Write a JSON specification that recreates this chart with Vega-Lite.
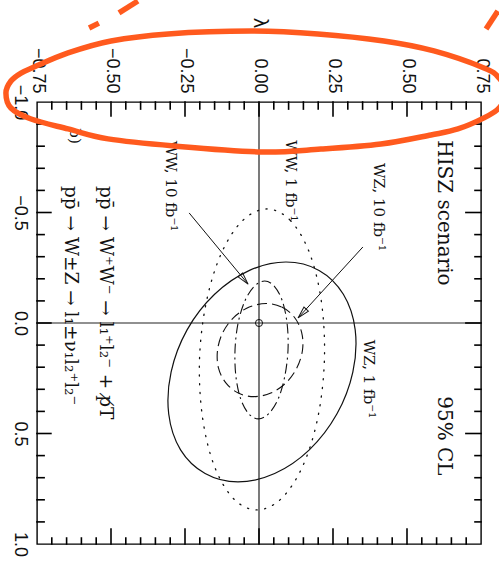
{
  "$schema": "https://vega.github.io/schema/vega-lite/v6.json",
  "width": 444,
  "height": 442,
  "autosize": {"type": "none"},
  "padding": {"left": 37, "top": 102, "right": 18, "bottom": 27},
  "background": "white",
  "config": {
    "view": {"stroke": "#000", "strokeWidth": 1.4},
    "axis": {"grid": false, "domain": false, "ticks": false, "labelColor": "#111"}
  },
  "datasets": {
    "tickmarks": [
      {"k": "t1", "x": -0.7, "y": -1}, {"k": "t1", "x": -0.7, "y": -0.968},
      {"k": "t2", "x": -0.65, "y": -1}, {"k": "t2", "x": -0.65, "y": -0.968},
      {"k": "t3", "x": -0.6, "y": -1}, {"k": "t3", "x": -0.6, "y": -0.968},
      {"k": "t4", "x": -0.55, "y": -1}, {"k": "t4", "x": -0.55, "y": -0.968},
      {"k": "t5", "x": -0.5, "y": -1}, {"k": "t5", "x": -0.5, "y": -0.937},
      {"k": "t6", "x": -0.45, "y": -1}, {"k": "t6", "x": -0.45, "y": -0.968},
      {"k": "t7", "x": -0.4, "y": -1}, {"k": "t7", "x": -0.4, "y": -0.968},
      {"k": "t8", "x": -0.35, "y": -1}, {"k": "t8", "x": -0.35, "y": -0.968},
      {"k": "t9", "x": -0.3, "y": -1}, {"k": "t9", "x": -0.3, "y": -0.968},
      {"k": "t10", "x": -0.25, "y": -1}, {"k": "t10", "x": -0.25, "y": -0.937},
      {"k": "t11", "x": -0.2, "y": -1}, {"k": "t11", "x": -0.2, "y": -0.968},
      {"k": "t12", "x": -0.15, "y": -1}, {"k": "t12", "x": -0.15, "y": -0.968},
      {"k": "t13", "x": -0.1, "y": -1}, {"k": "t13", "x": -0.1, "y": -0.968},
      {"k": "t14", "x": -0.05, "y": -1}, {"k": "t14", "x": -0.05, "y": -0.968},
      {"k": "t15", "x": 0, "y": -1}, {"k": "t15", "x": 0, "y": -0.937},
      {"k": "t16", "x": 0.05, "y": -1}, {"k": "t16", "x": 0.05, "y": -0.968},
      {"k": "t17", "x": 0.1, "y": -1}, {"k": "t17", "x": 0.1, "y": -0.968},
      {"k": "t18", "x": 0.15, "y": -1}, {"k": "t18", "x": 0.15, "y": -0.968},
      {"k": "t19", "x": 0.2, "y": -1}, {"k": "t19", "x": 0.2, "y": -0.968},
      {"k": "t20", "x": 0.25, "y": -1}, {"k": "t20", "x": 0.25, "y": -0.937},
      {"k": "t21", "x": 0.3, "y": -1}, {"k": "t21", "x": 0.3, "y": -0.968},
      {"k": "t22", "x": 0.35, "y": -1}, {"k": "t22", "x": 0.35, "y": -0.968},
      {"k": "t23", "x": 0.4, "y": -1}, {"k": "t23", "x": 0.4, "y": -0.968},
      {"k": "t24", "x": 0.45, "y": -1}, {"k": "t24", "x": 0.45, "y": -0.968},
      {"k": "t25", "x": 0.5, "y": -1}, {"k": "t25", "x": 0.5, "y": -0.937},
      {"k": "t26", "x": 0.55, "y": -1}, {"k": "t26", "x": 0.55, "y": -0.968},
      {"k": "t27", "x": 0.6, "y": -1}, {"k": "t27", "x": 0.6, "y": -0.968},
      {"k": "t28", "x": 0.65, "y": -1}, {"k": "t28", "x": 0.65, "y": -0.968},
      {"k": "t29", "x": 0.7, "y": -1}, {"k": "t29", "x": 0.7, "y": -0.968},
      {"k": "b1", "x": -0.7, "y": 1}, {"k": "b1", "x": -0.7, "y": 0.973},
      {"k": "b2", "x": -0.65, "y": 1}, {"k": "b2", "x": -0.65, "y": 0.973},
      {"k": "b3", "x": -0.6, "y": 1}, {"k": "b3", "x": -0.6, "y": 0.973},
      {"k": "b4", "x": -0.55, "y": 1}, {"k": "b4", "x": -0.55, "y": 0.973},
      {"k": "b5", "x": -0.5, "y": 1}, {"k": "b5", "x": -0.5, "y": 0.932},
      {"k": "b6", "x": -0.45, "y": 1}, {"k": "b6", "x": -0.45, "y": 0.973},
      {"k": "b7", "x": -0.4, "y": 1}, {"k": "b7", "x": -0.4, "y": 0.973},
      {"k": "b8", "x": -0.35, "y": 1}, {"k": "b8", "x": -0.35, "y": 0.973},
      {"k": "b9", "x": -0.3, "y": 1}, {"k": "b9", "x": -0.3, "y": 0.973},
      {"k": "b10", "x": -0.25, "y": 1}, {"k": "b10", "x": -0.25, "y": 0.932},
      {"k": "b11", "x": -0.2, "y": 1}, {"k": "b11", "x": -0.2, "y": 0.973},
      {"k": "b12", "x": -0.15, "y": 1}, {"k": "b12", "x": -0.15, "y": 0.973},
      {"k": "b13", "x": -0.1, "y": 1}, {"k": "b13", "x": -0.1, "y": 0.973},
      {"k": "b14", "x": -0.05, "y": 1}, {"k": "b14", "x": -0.05, "y": 0.973},
      {"k": "b15", "x": 0, "y": 1}, {"k": "b15", "x": 0, "y": 0.932},
      {"k": "b16", "x": 0.05, "y": 1}, {"k": "b16", "x": 0.05, "y": 0.973},
      {"k": "b17", "x": 0.1, "y": 1}, {"k": "b17", "x": 0.1, "y": 0.973},
      {"k": "b18", "x": 0.15, "y": 1}, {"k": "b18", "x": 0.15, "y": 0.973},
      {"k": "b19", "x": 0.2, "y": 1}, {"k": "b19", "x": 0.2, "y": 0.973},
      {"k": "b20", "x": 0.25, "y": 1}, {"k": "b20", "x": 0.25, "y": 0.932},
      {"k": "b21", "x": 0.3, "y": 1}, {"k": "b21", "x": 0.3, "y": 0.973},
      {"k": "b22", "x": 0.35, "y": 1}, {"k": "b22", "x": 0.35, "y": 0.973},
      {"k": "b23", "x": 0.4, "y": 1}, {"k": "b23", "x": 0.4, "y": 0.973},
      {"k": "b24", "x": 0.45, "y": 1}, {"k": "b24", "x": 0.45, "y": 0.973},
      {"k": "b25", "x": 0.5, "y": 1}, {"k": "b25", "x": 0.5, "y": 0.932},
      {"k": "b26", "x": 0.55, "y": 1}, {"k": "b26", "x": 0.55, "y": 0.973},
      {"k": "b27", "x": 0.6, "y": 1}, {"k": "b27", "x": 0.6, "y": 0.973},
      {"k": "b28", "x": 0.65, "y": 1}, {"k": "b28", "x": 0.65, "y": 0.973},
      {"k": "b29", "x": 0.7, "y": 1}, {"k": "b29", "x": 0.7, "y": 0.973},
      {"k": "l1", "x": -0.75, "y": -0.9}, {"k": "l1", "x": -0.726, "y": -0.9},
      {"k": "l2", "x": -0.75, "y": -0.8}, {"k": "l2", "x": -0.726, "y": -0.8},
      {"k": "l3", "x": -0.75, "y": -0.7}, {"k": "l3", "x": -0.726, "y": -0.7},
      {"k": "l4", "x": -0.75, "y": -0.6}, {"k": "l4", "x": -0.726, "y": -0.6},
      {"k": "l5", "x": -0.75, "y": -0.5}, {"k": "l5", "x": -0.703, "y": -0.5},
      {"k": "l6", "x": -0.75, "y": -0.4}, {"k": "l6", "x": -0.726, "y": -0.4},
      {"k": "l7", "x": -0.75, "y": -0.3}, {"k": "l7", "x": -0.726, "y": -0.3},
      {"k": "l8", "x": -0.75, "y": -0.2}, {"k": "l8", "x": -0.726, "y": -0.2},
      {"k": "l9", "x": -0.75, "y": -0.1}, {"k": "l9", "x": -0.726, "y": -0.1},
      {"k": "l10", "x": -0.75, "y": 0}, {"k": "l10", "x": -0.703, "y": 0},
      {"k": "l11", "x": -0.75, "y": 0.1}, {"k": "l11", "x": -0.726, "y": 0.1},
      {"k": "l12", "x": -0.75, "y": 0.2}, {"k": "l12", "x": -0.726, "y": 0.2},
      {"k": "l13", "x": -0.75, "y": 0.3}, {"k": "l13", "x": -0.726, "y": 0.3},
      {"k": "l14", "x": -0.75, "y": 0.4}, {"k": "l14", "x": -0.726, "y": 0.4},
      {"k": "l15", "x": -0.75, "y": 0.5}, {"k": "l15", "x": -0.703, "y": 0.5},
      {"k": "l16", "x": -0.75, "y": 0.6}, {"k": "l16", "x": -0.726, "y": 0.6},
      {"k": "l17", "x": -0.75, "y": 0.7}, {"k": "l17", "x": -0.726, "y": 0.7},
      {"k": "l18", "x": -0.75, "y": 0.8}, {"k": "l18", "x": -0.726, "y": 0.8},
      {"k": "l19", "x": -0.75, "y": 0.9}, {"k": "l19", "x": -0.726, "y": 0.9},
      {"k": "r1", "x": 0.75, "y": -0.9}, {"k": "r1", "x": 0.7297, "y": -0.9},
      {"k": "r2", "x": 0.75, "y": -0.8}, {"k": "r2", "x": 0.7297, "y": -0.8},
      {"k": "r3", "x": 0.75, "y": -0.7}, {"k": "r3", "x": 0.7297, "y": -0.7},
      {"k": "r4", "x": 0.75, "y": -0.6}, {"k": "r4", "x": 0.7297, "y": -0.6},
      {"k": "r5", "x": 0.75, "y": -0.5}, {"k": "r5", "x": 0.699, "y": -0.5},
      {"k": "r6", "x": 0.75, "y": -0.4}, {"k": "r6", "x": 0.7297, "y": -0.4},
      {"k": "r7", "x": 0.75, "y": -0.3}, {"k": "r7", "x": 0.7297, "y": -0.3},
      {"k": "r8", "x": 0.75, "y": -0.2}, {"k": "r8", "x": 0.7297, "y": -0.2},
      {"k": "r9", "x": 0.75, "y": -0.1}, {"k": "r9", "x": 0.7297, "y": -0.1},
      {"k": "r10", "x": 0.75, "y": 0}, {"k": "r10", "x": 0.699, "y": 0},
      {"k": "r11", "x": 0.75, "y": 0.1}, {"k": "r11", "x": 0.7297, "y": 0.1},
      {"k": "r12", "x": 0.75, "y": 0.2}, {"k": "r12", "x": 0.7297, "y": 0.2},
      {"k": "r13", "x": 0.75, "y": 0.3}, {"k": "r13", "x": 0.7297, "y": 0.3},
      {"k": "r14", "x": 0.75, "y": 0.4}, {"k": "r14", "x": 0.7297, "y": 0.4},
      {"k": "r15", "x": 0.75, "y": 0.5}, {"k": "r15", "x": 0.699, "y": 0.5},
      {"k": "r16", "x": 0.75, "y": 0.6}, {"k": "r16", "x": 0.7297, "y": 0.6},
      {"k": "r17", "x": 0.75, "y": 0.7}, {"k": "r17", "x": 0.7297, "y": 0.7},
      {"k": "r18", "x": 0.75, "y": 0.8}, {"k": "r18", "x": 0.7297, "y": 0.8},
      {"k": "r19", "x": 0.75, "y": 0.9}, {"k": "r19", "x": 0.7297, "y": 0.9}
    ],
    "ww1": [
      {"i": 0, "x": 0.027, "y": -0.516}, {"i": 1, "x": 0.106, "y": -0.464}, {"i": 2, "x": 0.171, "y": -0.316},
      {"i": 3, "x": 0.211, "y": -0.095}, {"i": 4, "x": 0.221, "y": 0.165}, {"i": 5, "x": 0.199, "y": 0.426},
      {"i": 6, "x": 0.148, "y": 0.647}, {"i": 7, "x": 0.075, "y": 0.795}, {"i": 8, "x": -0.007, "y": 0.846},
      {"i": 9, "x": -0.086, "y": 0.795}, {"i": 10, "x": -0.151, "y": 0.647}, {"i": 11, "x": -0.191, "y": 0.426},
      {"i": 12, "x": -0.201, "y": 0.165}, {"i": 13, "x": -0.178, "y": -0.095}, {"i": 14, "x": -0.127, "y": -0.316},
      {"i": 15, "x": -0.055, "y": -0.464}
    ],
    "wz1": [
      {"i": 0, "x": 0.091, "y": -0.276}, {"i": 1, "x": 0.203, "y": -0.238}, {"i": 2, "x": 0.285, "y": -0.13},
      {"i": 3, "x": 0.325, "y": 0.031}, {"i": 4, "x": 0.317, "y": 0.222}, {"i": 5, "x": 0.263, "y": 0.412},
      {"i": 6, "x": 0.17, "y": 0.574}, {"i": 7, "x": 0.053, "y": 0.681}, {"i": 8, "x": -0.071, "y": 0.719},
      {"i": 9, "x": -0.182, "y": 0.681}, {"i": 10, "x": -0.265, "y": 0.574}, {"i": 11, "x": -0.305, "y": 0.412},
      {"i": 12, "x": -0.297, "y": 0.222}, {"i": 13, "x": -0.243, "y": 0.031}, {"i": 14, "x": -0.15, "y": -0.13},
      {"i": 15, "x": -0.032, "y": -0.238}
    ],
    "wz10": [
      {"i": 0, "x": 0.024, "y": -0.088}, {"i": 1, "x": 0.077, "y": -0.072}, {"i": 2, "x": 0.119, "y": -0.027},
      {"i": 3, "x": 0.144, "y": 0.042}, {"i": 4, "x": 0.147, "y": 0.122}, {"i": 5, "x": 0.128, "y": 0.203},
      {"i": 6, "x": 0.091, "y": 0.271}, {"i": 7, "x": 0.04, "y": 0.317}, {"i": 8, "x": -0.017, "y": 0.333},
      {"i": 9, "x": -0.07, "y": 0.317}, {"i": 10, "x": -0.112, "y": 0.271}, {"i": 11, "x": -0.137, "y": 0.203},
      {"i": 12, "x": -0.14, "y": 0.122}, {"i": 13, "x": -0.122, "y": 0.042}, {"i": 14, "x": -0.084, "y": -0.027},
      {"i": 15, "x": -0.033, "y": -0.072}
    ],
    "ww10": [
      {"i": 0, "x": 0.019, "y": -0.19}, {"i": 1, "x": 0.052, "y": -0.166}, {"i": 2, "x": 0.079, "y": -0.099},
      {"i": 3, "x": 0.095, "y": 0.003}, {"i": 4, "x": 0.098, "y": 0.122}, {"i": 5, "x": 0.087, "y": 0.242},
      {"i": 6, "x": 0.065, "y": 0.343}, {"i": 7, "x": 0.033, "y": 0.41}, {"i": 8, "x": -0.002, "y": 0.434},
      {"i": 9, "x": -0.035, "y": 0.41}, {"i": 10, "x": -0.062, "y": 0.343}, {"i": 11, "x": -0.078, "y": 0.242},
      {"i": 12, "x": -0.081, "y": 0.122}, {"i": 13, "x": -0.071, "y": 0.003}, {"i": 14, "x": -0.048, "y": -0.099},
      {"i": 15, "x": -0.016, "y": -0.166}
    ],
    "highlight": [
      {"i": 0, "x": -0.855, "y": -1.041}, {"i": 1, "x": -0.838, "y": -1.095}, {"i": 2, "x": -0.804, "y": -1.131},
      {"i": 3, "x": -0.76, "y": -1.158}, {"i": 4, "x": -0.645, "y": -1.222}, {"i": 5, "x": -0.5, "y": -1.276},
      {"i": 6, "x": -0.307, "y": -1.308}, {"i": 7, "x": -0.027, "y": -1.321}, {"i": 8, "x": 0.199, "y": -1.308},
      {"i": 9, "x": 0.422, "y": -1.276}, {"i": 10, "x": 0.591, "y": -1.231}, {"i": 11, "x": 0.76, "y": -1.154},
      {"i": 12, "x": 0.811, "y": -1.109}, {"i": 13, "x": 0.834, "y": -1.041}, {"i": 14, "x": 0.811, "y": -0.973},
      {"i": 15, "x": 0.76, "y": -0.928}, {"i": 16, "x": 0.672, "y": -0.878}, {"i": 17, "x": 0.581, "y": -0.851},
      {"i": 18, "x": 0.412, "y": -0.81}, {"i": 19, "x": 0.209, "y": -0.787}, {"i": 20, "x": 0.007, "y": -0.774},
      {"i": 21, "x": -0.287, "y": -0.801}, {"i": 22, "x": -0.51, "y": -0.833}, {"i": 23, "x": -0.645, "y": -0.878},
      {"i": 24, "x": -0.77, "y": -0.923}, {"i": 25, "x": -0.838, "y": -0.973}
    ],
    "strokes": [
      {"seg": "a", "i": 0, "x": -0.574, "y": -1.335}, {"seg": "a", "i": 1, "x": -0.541, "y": -1.357},
      {"seg": "b", "i": 0, "x": -0.473, "y": -1.403}, {"seg": "b", "i": 1, "x": -0.409, "y": -1.457},
      {"seg": "c", "i": 0, "x": 0.767, "y": -1.33}, {"seg": "c", "i": 1, "x": 0.807, "y": -1.412}
    ],
    "arrows": [
      {"a": "ww10", "i": 0, "x": -0.236, "y": -0.498}, {"a": "ww10", "i": 1, "x": -0.037, "y": -0.176},
      {"a": "wz10", "i": 0, "x": 0.351, "y": -0.344}, {"a": "wz10", "i": 1, "x": 0.132, "y": -0.023}
    ]
  },
  "layer": [
    {
      "data": {"values": [{"x": 0, "y": -1, "y2": 1}]},
      "mark": {"type": "rule", "color": "#222", "strokeWidth": 1.2},
      "encoding": {
        "x": {
          "field": "x", "type": "quantitative",
          "scale": {"domain": [-0.75, 0.75], "nice": false, "zero": false},
          "axis": {
            "orient": "top",
            "values": [-0.75, -0.5, -0.25, 0, 0.25, 0.5, 0.75],
            "format": ".2f",
            "labelAngle": 90, "labelAlign": "right", "labelBaseline": "middle",
            "labelFont": "Liberation Sans", "labelFontSize": 18,
            "labelPadding": 9, "labelFlush": false, "labelOverlap": false, "labelBound": false,
            "title": "λ", "titleFont": "Liberation Sans", "titleFontSize": 20, "titleFontWeight": "normal",
            "titleAngle": 90, "titleAlign": "right", "titleBaseline": "middle", "titlePadding": 20, "titleColor": "#111"
          }
        },
        "y": {"field": "y", "type": "quantitative", "scale": {"domain": [-1, 1], "nice": false, "zero": false, "reverse": true}, "axis": null},
        "y2": {"field": "y2"}
      }
    },
    {
      "data": {"values": [{"x": -0.75, "x2": 0.75, "y": 0}]},
      "mark": {"type": "rule", "color": "#222", "strokeWidth": 1.2},
      "encoding": {
        "x": {"field": "x", "type": "quantitative", "scale": {"domain": [-0.75, 0.75], "nice": false, "zero": false}, "axis": null},
        "x2": {"field": "x2"},
        "y": {
          "field": "y", "type": "quantitative",
          "scale": {"domain": [-1, 1], "nice": false, "zero": false, "reverse": true},
          "axis": {
            "orient": "left",
            "values": [-1, -0.5, 0, 0.5, 1],
            "format": ".1f",
            "labelAngle": 90, "labelAlign": "center", "labelBaseline": "top",
            "labelFont": "Liberation Sans", "labelFontSize": 18,
            "labelPadding": 9, "labelFlush": false, "labelOverlap": false, "labelBound": false,
            "title": null
          }
        }
      }
    },
    {
      "data": {"name": "tickmarks"},
      "mark": {"type": "line", "color": "#000", "strokeWidth": 1.6, "strokeCap": "square"},
      "encoding": {
        "detail": {"field": "k"},
        "x": {"field": "x", "type": "quantitative", "scale": {"domain": [-0.75, 0.75], "nice": false, "zero": false}, "axis": null},
        "y": {"field": "y", "type": "quantitative", "scale": {"domain": [-1, 1], "nice": false, "zero": false, "reverse": true}, "axis": null}
      }
    },
    {
      "data": {"name": "wz1"},
      "mark": {"type": "line", "interpolate": "cardinal-closed", "color": "#111", "strokeWidth": 1.2},
      "encoding": {
        "order": {"field": "i"},
        "x": {"field": "x", "type": "quantitative", "scale": {"domain": [-0.75, 0.75], "nice": false, "zero": false}, "axis": null},
        "y": {"field": "y", "type": "quantitative", "scale": {"domain": [-1, 1], "nice": false, "zero": false, "reverse": true}, "axis": null}
      }
    },
    {
      "data": {"name": "ww1"},
      "mark": {"type": "line", "interpolate": "cardinal-closed", "color": "#111", "strokeWidth": 1.3, "strokeDash": [1.2, 7.5], "strokeCap": "round"},
      "encoding": {
        "order": {"field": "i"},
        "x": {"field": "x", "type": "quantitative", "scale": {"domain": [-0.75, 0.75], "nice": false, "zero": false}, "axis": null},
        "y": {"field": "y", "type": "quantitative", "scale": {"domain": [-1, 1], "nice": false, "zero": false, "reverse": true}, "axis": null}
      }
    },
    {
      "data": {"name": "wz10"},
      "mark": {"type": "line", "interpolate": "cardinal-closed", "color": "#111", "strokeWidth": 1.1, "strokeDash": [10, 5]},
      "encoding": {
        "order": {"field": "i"},
        "x": {"field": "x", "type": "quantitative", "scale": {"domain": [-0.75, 0.75], "nice": false, "zero": false}, "axis": null},
        "y": {"field": "y", "type": "quantitative", "scale": {"domain": [-1, 1], "nice": false, "zero": false, "reverse": true}, "axis": null}
      }
    },
    {
      "data": {"name": "ww10"},
      "mark": {"type": "line", "interpolate": "cardinal-closed", "color": "#111", "strokeWidth": 1.1, "strokeDash": [10, 4, 2, 4]},
      "encoding": {
        "order": {"field": "i"},
        "x": {"field": "x", "type": "quantitative", "scale": {"domain": [-0.75, 0.75], "nice": false, "zero": false}, "axis": null},
        "y": {"field": "y", "type": "quantitative", "scale": {"domain": [-1, 1], "nice": false, "zero": false, "reverse": true}, "axis": null}
      }
    },
    {
      "data": {"name": "arrows"},
      "mark": {"type": "line", "color": "#111", "strokeWidth": 1},
      "encoding": {
        "order": {"field": "i"}, "detail": {"field": "a"},
        "x": {"field": "x", "type": "quantitative", "scale": {"domain": [-0.75, 0.75], "nice": false, "zero": false}, "axis": null},
        "y": {"field": "y", "type": "quantitative", "scale": {"domain": [-1, 1], "nice": false, "zero": false, "reverse": true}, "axis": null}
      }
    },
    {
      "data": {"values": [{"x": -0.037, "y": -0.176}]},
      "mark": {"type": "point", "shape": "M0,0L-0.25,1L0.25,1Z", "size": 576, "angle": 140, "filled": false, "color": "#111", "strokeWidth": 1, "opacity": 1},
      "encoding": {
        "x": {"field": "x", "type": "quantitative", "scale": {"domain": [-0.75, 0.75], "nice": false, "zero": false}, "axis": null},
        "y": {"field": "y", "type": "quantitative", "scale": {"domain": [-1, 1], "nice": false, "zero": false, "reverse": true}, "axis": null}
      }
    },
    {
      "data": {"values": [{"x": 0.132, "y": -0.023}]},
      "mark": {"type": "point", "shape": "M0,0L-0.25,1L0.25,1Z", "size": 576, "angle": 222.5, "filled": false, "color": "#111", "strokeWidth": 1, "opacity": 1},
      "encoding": {
        "x": {"field": "x", "type": "quantitative", "scale": {"domain": [-0.75, 0.75], "nice": false, "zero": false}, "axis": null},
        "y": {"field": "y", "type": "quantitative", "scale": {"domain": [-1, 1], "nice": false, "zero": false, "reverse": true}, "axis": null}
      }
    },
    {
      "data": {"values": [{"x": 0, "y": 0}]},
      "mark": {"type": "point", "shape": "circle", "size": 50, "filled": false, "color": "#111", "strokeWidth": 1, "opacity": 1},
      "encoding": {
        "x": {"field": "x", "type": "quantitative", "scale": {"domain": [-0.75, 0.75], "nice": false, "zero": false}, "axis": null},
        "y": {"field": "y", "type": "quantitative", "scale": {"domain": [-1, 1], "nice": false, "zero": false, "reverse": true}, "axis": null}
      }
    },
    {
      "data": {"values": [
        {"x": 0.625, "y": -0.498, "t": "HISZ scenario"},
        {"x": 0.625, "y": 0.511, "t": "95% CL"}
      ]},
      "mark": {"type": "text", "angle": 90, "align": "center", "baseline": "middle", "font": "DejaVu Serif", "fontSize": 20, "color": "#111"},
      "encoding": {
        "text": {"field": "t"},
        "x": {"field": "x", "type": "quantitative", "scale": {"domain": [-0.75, 0.75], "nice": false, "zero": false}, "axis": null},
        "y": {"field": "y", "type": "quantitative", "scale": {"domain": [-1, 1], "nice": false, "zero": false, "reverse": true}, "axis": null}
      }
    },
    {
      "data": {"values": [
        {"x": 0.372, "y": 0.253, "t": "WZ, 1 fb⁻¹"},
        {"x": 0.405, "y": -0.525, "t": "WZ, 10 fb⁻¹"},
        {"x": 0.108, "y": -0.643, "t": "WW, 1 fb⁻¹"},
        {"x": -0.297, "y": -0.62, "t": "WW, 10 fb⁻¹"},
        {"x": -0.622, "y": -0.846, "t": "b)"}
      ]},
      "mark": {"type": "text", "angle": 90, "align": "center", "baseline": "middle", "font": "DejaVu Serif", "fontSize": 15, "color": "#111"},
      "encoding": {
        "text": {"field": "t"},
        "x": {"field": "x", "type": "quantitative", "scale": {"domain": [-0.75, 0.75], "nice": false, "zero": false}, "axis": null},
        "y": {"field": "y", "type": "quantitative", "scale": {"domain": [-1, 1], "nice": false, "zero": false, "reverse": true}, "axis": null}
      }
    },
    {
      "data": {"values": [
        {"x": -0.517, "y": -0.62, "t": "pp̄ → W⁺W⁻ → l₁⁺l₂⁻ + p̸T"},
        {"x": -0.635, "y": -0.62, "t": "pp̄ → W±Z → l₁±ν₁l₂⁺l₂⁻"}
      ]},
      "mark": {"type": "text", "angle": 90, "align": "left", "baseline": "middle", "font": "DejaVu Serif", "fontSize": 18.5, "color": "#111"},
      "encoding": {
        "text": {"field": "t"},
        "x": {"field": "x", "type": "quantitative", "scale": {"domain": [-0.75, 0.75], "nice": false, "zero": false}, "axis": null},
        "y": {"field": "y", "type": "quantitative", "scale": {"domain": [-1, 1], "nice": false, "zero": false, "reverse": true}, "axis": null}
      }
    },
    {
      "data": {"name": "highlight"},
      "mark": {"type": "line", "interpolate": "cardinal-closed", "color": "#ff5a1e", "strokeWidth": 5.5, "clip": false},
      "encoding": {
        "order": {"field": "i"},
        "x": {"field": "x", "type": "quantitative", "scale": {"domain": [-0.75, 0.75], "nice": false, "zero": false}, "axis": null},
        "y": {"field": "y", "type": "quantitative", "scale": {"domain": [-1, 1], "nice": false, "zero": false, "reverse": true}, "axis": null}
      }
    },
    {
      "data": {"name": "strokes"},
      "mark": {"type": "line", "color": "#ff5a1e", "strokeWidth": 5.5, "strokeCap": "butt", "clip": false},
      "encoding": {
        "order": {"field": "i"}, "detail": {"field": "seg"},
        "x": {"field": "x", "type": "quantitative", "scale": {"domain": [-0.75, 0.75], "nice": false, "zero": false}, "axis": null},
        "y": {"field": "y", "type": "quantitative", "scale": {"domain": [-1, 1], "nice": false, "zero": false, "reverse": true}, "axis": null}
      }
    }
  ],
  "resolve": {"axis": {"x": "independent", "y": "independent"}}
}
